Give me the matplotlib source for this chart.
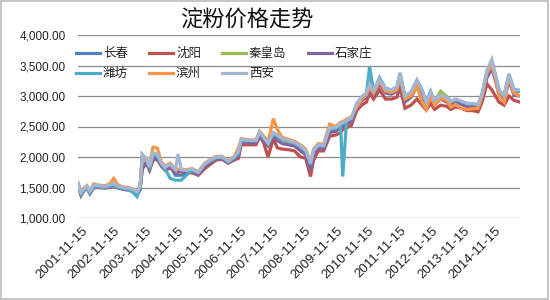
import matplotlib
matplotlib.use("Agg")
import matplotlib.pyplot as plt
import numpy as np
import pandas as pd
from matplotlib.patches import Rectangle

plt.rcParams['font.family'] = ['Noto Sans CJK SC', 'DejaVu Sans']

title = "淀粉价格走势"
dates = ["2001-10-01", "2001-11-05", "2001-12-10", "2002-01-10", "2002-02-15", "2002-04-01",
         "2002-05-25", "2002-08-05", "2002-10-01", "2002-11-15", "2003-01-05", "2003-03-05",
         "2003-05-01", "2003-06-25", "2003-08-10", "2003-09-15", "2003-10-10", "2003-11-25",
         "2004-01-01", "2004-02-10", "2004-03-30", "2004-05-15", "2004-06-30", "2004-08-25",
         "2004-10-25", "2004-11-25", "2005-01-01", "2005-02-25", "2005-05-05", "2005-07-15",
         "2005-09-20", "2005-11-30", "2006-02-05", "2006-04-15", "2006-06-25", "2006-09-01",
         "2006-10-20", "2006-11-20", "2007-02-20", "2007-05-10", "2007-06-20", "2007-08-01",
         "2007-09-25", "2007-11-25", "2008-01-10", "2008-03-05", "2008-05-15", "2008-07-25",
         "2008-10-01", "2008-11-30", "2009-01-25", "2009-03-01", "2009-04-25", "2009-06-25",
         "2009-09-01", "2009-11-10", "2010-01-05", "2010-01-30", "2010-03-15", "2010-05-10",
         "2010-07-10", "2010-09-05", "2010-10-30", "2010-12-05", "2011-01-20", "2011-03-30",
         "2011-06-05", "2011-08-15", "2011-10-15", "2011-11-20", "2012-01-15", "2012-03-25",
         "2012-06-01", "2012-07-30", "2012-09-15", "2012-11-05", "2012-12-20", "2013-03-01",
         "2013-05-10", "2013-06-25", "2013-08-20", "2013-10-20", "2013-12-30", "2014-03-05",
         "2014-05-05", "2014-06-20", "2014-08-15", "2014-10-10", "2014-11-20", "2015-01-01",
         "2015-02-28", "2015-04-25", "2015-06-20", "2015-08-30"]

changchun = [1560,1400,1470,1510,1420,1530,1520,1510,1530,1550,1510,1490,1480,1450,1400,1500,2000,1960,1820,2000,2000,1880,1820,1860,1700,1700,1700,1740,1790,1740,1870,1940,1990,1990,1920,1990,2060,2260,2260,2260,2380,2310,2220,2350,2330,2280,2250,2220,2160,2080,1870,2080,2170,2170,2440,2450,2520,2540,2580,2620,2850,2960,3020,3250,3060,3250,3100,3080,3130,3330,2980,3050,3220,3080,2880,3060,2900,2980,2960,2890,2930,2900,2860,2850,2840,3020,3380,3520,3320,3080,2980,3320,3080,3070]
shenyang = [1540,1380,1450,1490,1400,1500,1500,1490,1500,1530,1490,1470,1460,1440,1390,1460,1800,1900,1780,1950,1960,1850,1780,1820,1750,1750,1760,1740,1740,1700,1800,1880,1950,1960,1900,1950,1980,2200,2200,2200,2330,2250,2000,2300,2150,2130,2120,2100,2000,1980,1680,1950,2100,2100,2340,2360,2400,2450,2480,2520,2760,2850,2900,3050,2950,3100,2950,2950,2980,3150,2800,2850,2950,2850,2770,2880,2780,2850,2830,2780,2820,2800,2760,2760,2740,2900,3200,3100,3000,2900,2850,3000,2930,2900]
qinhuangdao = [1560,1410,1470,1510,1430,1530,1520,1510,1530,1560,1510,1490,1480,1460,1420,1510,1980,1950,1830,2040,2030,1890,1820,1870,1780,1780,1780,1770,1790,1740,1870,1940,1990,1990,1920,1990,2080,2270,2250,2250,2390,2310,2210,2380,2340,2280,2250,2220,2160,2090,1880,2090,2180,2170,2460,2460,2530,2540,2580,2620,2860,2970,3030,3180,3070,3260,3100,3080,3130,3340,2990,3060,3240,3090,2890,3070,2910,3080,2990,2920,2940,2910,2870,2870,2850,3030,3400,3560,3340,3080,2990,3340,3090,3080]
shijiazhuang = [1550,1370,1460,1500,1400,1510,1500,1500,1510,1540,1500,1470,1460,1440,1380,1470,1820,1920,1800,1980,1980,1860,1800,1840,1760,1760,1770,1750,1760,1720,1830,1910,1970,1970,1900,1970,2020,2240,2230,2230,2360,2280,2180,2330,2270,2220,2200,2180,2100,2040,1780,2030,2150,2140,2400,2420,2480,2500,2540,2580,2820,2920,2980,3120,3020,3200,3050,3030,3080,3250,2900,2980,3150,3000,2830,3000,2860,2950,2900,2850,2880,2870,2820,2820,2800,2980,3300,3450,3250,3020,2920,3250,3020,3000]
weifang = [1550,1390,1460,1500,1410,1520,1510,1500,1520,1540,1500,1480,1470,1420,1350,1480,2040,1960,1800,2030,2020,1880,1800,1650,1620,1620,1620,1700,1780,1740,1870,1940,1990,2000,1920,1990,2060,2270,2270,2270,2400,2320,2220,2380,2340,2290,2260,2230,2170,2100,1880,2100,2190,2180,2470,2470,2540,1680,2590,2630,2870,2980,3040,3480,3080,3300,3130,3100,3150,3380,3000,3060,3260,3100,2890,3070,2910,3000,2970,2900,2940,2910,2870,2870,2850,3030,3400,3560,3340,3090,3000,3360,3110,3090]
binzhou = [1580,1430,1490,1530,1450,1560,1540,1530,1560,1650,1540,1510,1500,1480,1440,1530,2000,1970,1850,2160,2150,1920,1850,1900,1800,1800,1800,1790,1810,1760,1890,1960,2010,2010,1940,2010,2150,2300,2280,2280,2420,2350,2250,2630,2450,2320,2290,2260,2200,2130,1920,2130,2220,2210,2540,2500,2570,2580,2620,2660,2820,2950,3020,3150,3050,3240,3080,3060,3100,3300,2950,3000,3160,2900,2780,3000,2850,2960,2930,2820,2860,2800,2780,2790,2800,3000,3380,3500,3300,3000,2900,3300,3050,3000]
xian = [1570,1420,1480,1520,1440,1540,1530,1520,1540,1570,1520,1500,1490,1470,1430,1520,2040,1980,1840,2060,2050,1900,1830,1880,1790,2050,1790,1780,1800,1750,1880,1950,2000,2000,1930,2000,2090,2290,2270,2270,2410,2330,2230,2400,2360,2300,2270,2240,2180,2110,1900,2110,2200,2190,2480,2480,2550,2560,2600,2640,2880,2990,3050,3200,3090,3280,3120,3100,3150,3370,3000,3070,3260,3100,2900,3080,2920,3010,2980,2910,2950,2920,2880,2880,2860,3040,3420,3600,3360,3100,3000,3360,3100,3100]

series_names = ["长春", "沈阳", "秦皇岛", "石家庄", "潍坊", "滨州", "西安"]
series_vals = [changchun, shenyang, qinhuangdao, shijiazhuang, weifang, binzhou, xian]
colors = ["#4F81BD", "#C0504D", "#9BBB59", "#8064A2", "#4BACC6", "#F79646", "#A3B6D4"]

tick_labels = ["2001-11-15", "2002-11-15", "2003-11-15", "2004-11-15", "2005-11-15",
               "2006-11-15", "2007-11-15", "2008-11-15", "2009-11-15", "2010-11-15",
               "2011-11-15", "2012-11-15", "2013-11-15", "2014-11-15"]
y_ticks = [1000, 1500, 2000, 2500, 3000, 3500, 4000]

x = pd.to_datetime(dates)

fig = plt.figure(figsize=(5.5, 3.0), dpi=100)
fig.patch.set_facecolor("white")
fig.add_artist(Rectangle((0.002, 0.003), 0.995, 0.993, transform=fig.transFigure,
                         fill=False, edgecolor="#BBBBBB", linewidth=1.2))

ax = fig.add_axes([78/550, 1-218/300, (520-78)/550, (218-35)/300])
lines = {}
for name, vals, c in zip(series_names, series_vals, colors):
    lines[name], = ax.plot(x, vals, color=c, lw=2.3, label=name, solid_joinstyle="miter")

ax.set_ylim(1000, 4000)
ax.set_xlim(x[0], x[-1])
ax.set_yticks(y_ticks)
ax.set_yticklabels([f"{v:,.2f}" for v in y_ticks], fontsize=8.5,
                   family=["Liberation Sans", "DejaVu Sans"], color="#222222")
ax.grid(axis="y", color="#8C8C8C", lw=0.9)
ax.set_axisbelow(True)
for s in ax.spines.values():
    s.set_visible(False)
ax.tick_params(length=0)
ax.tick_params(axis="y", pad=9)

tick_pos = pd.to_datetime(tick_labels)
ax.set_xticks(tick_pos)
ax.set_xticklabels(tick_labels, rotation=45, ha="right", rotation_mode="anchor",
                   fontsize=9.5, family=["Liberation Sans", "DejaVu Sans"], color="#222222")
ax.tick_params(axis="x", pad=5)

fig.text(247/550, 1-20/300, title, ha="center", va="center", fontsize=16, color="#111111")

# row-major legend order (matplotlib fills column by column)
order = ["长春", "潍坊", "沈阳", "滨州", "秦皇岛", "西安", "石家庄"]
leg = fig.legend([lines[n] for n in order], order, loc="upper left",
                 bbox_to_anchor=(76/550, 1-47/300), ncol=4,
                 frameon=False, fontsize=9, handlelength=1.9, handletextpad=0.25,
                 columnspacing=1.7, labelspacing=0.55, borderpad=0, borderaxespad=0)
for t in leg.get_texts():
    t.set_color("#222222")

fig.savefig("out.png", dpi=100, facecolor="white")
